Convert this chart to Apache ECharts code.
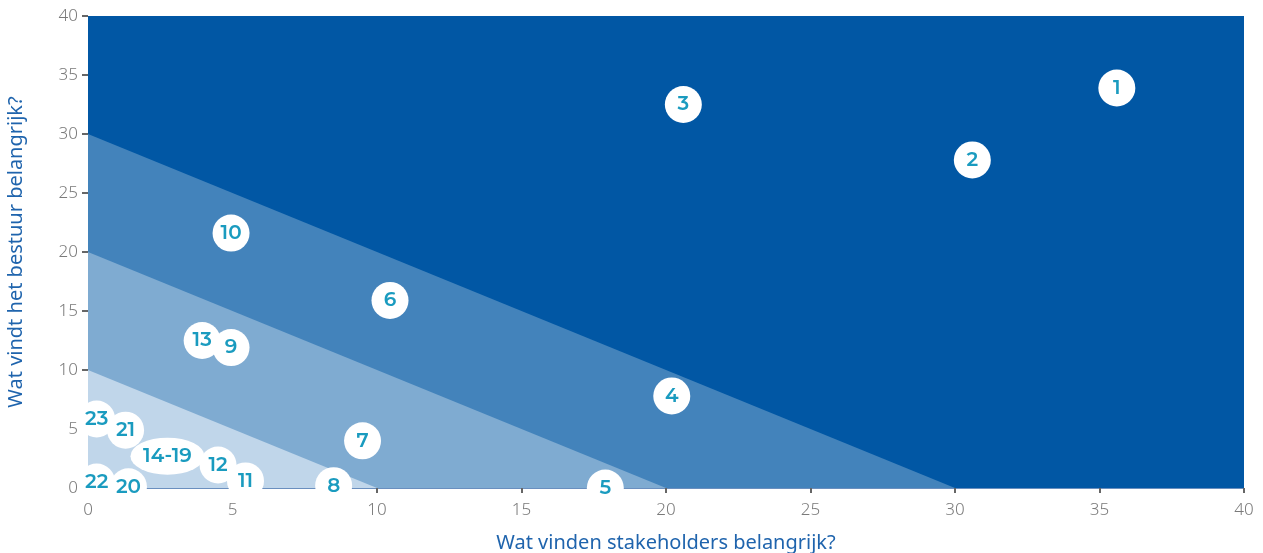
<!DOCTYPE html>
<html>
<head>
<meta charset="utf-8">
<script src="https://cdn.jsdelivr.net/npm/echarts@6/dist/echarts.min.js"></script>
<style>html,body{margin:0;padding:0;background:#fff}#c{width:1263px;height:553px}</style>
</head>
<body>
<div id="c"></div>
<script>
// Data
var bandLimits = [30, 20, 10];
var bandColors = ['#4383bb', '#7fabd1', '#c0d6ea'];
var pointLabels = ['1','2','3','4','5','6','7','8','9','10','11','12','13','14-19','20','21','22','23'];
var stakeholderValues = [35.6, 30.6, 20.6, 20.2, 17.9, 10.45, 9.5, 8.5, 4.95, 4.95, 5.45, 4.5, 3.95, 2.75, 1.4, 1.3, 0.3, 0.3];
var boardValues = [33.9, 27.8, 32.5, 7.8, 0.0, 15.9, 4.0, 0.2, 11.9, 21.6, 0.6, 1.95, 12.5, 2.7, 0.1, 4.9, 0.5, 5.85];
var xTicks = [0, 5, 10, 15, 20, 25, 30, 35, 40];
var yTicks = [0, 5, 10, 15, 20, 25, 30, 35, 40];

var chart = echarts.init(document.getElementById('c'), null, {renderer: 'canvas'});

var series = [];
bandLimits.forEach(function (lim, i) {
  series.push({
    type: 'line',
    data: [[0, lim], [lim, 0]],
    symbol: 'none',
    lineStyle: {width: 0, color: bandColors[i]},
    areaStyle: {color: bandColors[i], opacity: 1, origin: 'start'},
    silent: true,
    z: 1 + i
  });
});

var pts = pointLabels.map(function (l, i) {
  var d = {value: [stakeholderValues[i], boardValues[i]], name: l};
  if (l === '14-19') d.symbolSize = [74, 37];
  return d;
});

series.push({
  type: 'scatter',
  data: pts,
  symbol: 'circle',
  symbolSize: 37,
  itemStyle: {color: '#ffffff', opacity: 1},
  label: {
    show: true,
    position: 'inside',
    formatter: function (p) { return p.name; },
    color: '#1a9bbf',
    fontFamily: 'Montserrat, "Noto Sans", sans-serif',
    fontWeight: 600,
    fontSize: 20
  },
  clip: false,
  z: 10
});

chart.setOption({
  animation: false,
  backgroundColor: '#ffffff',
  grid: {left: 88, right: 19, top: 16, bottom: 65, containLabel: false, outerBoundsMode: 'none',
    show: true, backgroundColor: '#0157a4', borderWidth: 0},
  xAxis: {
    type: 'value', min: 0, max: 40, interval: 5,
    name: 'Wat vinden stakeholders belangrijk?',
    nameLocation: 'middle', nameGap: 45,
    nameTextStyle: {color: '#1f64ad', fontSize: 20, fontFamily: '"Noto Sans", sans-serif'},
    axisLine: {show: true, lineStyle: {color: '#6a8fbf', width: 1}},
    axisTick: {show: true, length: 5, lineStyle: {color: '#666666', width: 2}},
    axisLabel: {color: '#7a7a7a', fontSize: 17, margin: 14, fontFamily: '"Noto Sans", sans-serif', fontWeight: 300,
      formatter: function (v) { return xTicks.indexOf(v) >= 0 ? String(v) : ''; }},
    splitLine: {show: false}
  },
  yAxis: {
    type: 'value', min: 0, max: 40, interval: 5,
    name: 'Wat vindt het bestuur belangrijk?',
    nameLocation: 'middle', nameGap: 62,
    nameTextStyle: {color: '#1f64ad', fontSize: 20, fontFamily: '"Noto Sans", sans-serif'},
    axisLine: {show: false},
    axisTick: {show: true, length: 6, lineStyle: {color: '#666666', width: 2}},
    axisLabel: {color: '#7a7a7a', fontSize: 17, margin: 10, fontFamily: '"Noto Sans", sans-serif', fontWeight: 300,
      formatter: function (v) { return yTicks.indexOf(v) >= 0 ? String(v) : ''; }},
    splitLine: {show: false}
  },
  series: series
});
</script>
</body>
</html>
